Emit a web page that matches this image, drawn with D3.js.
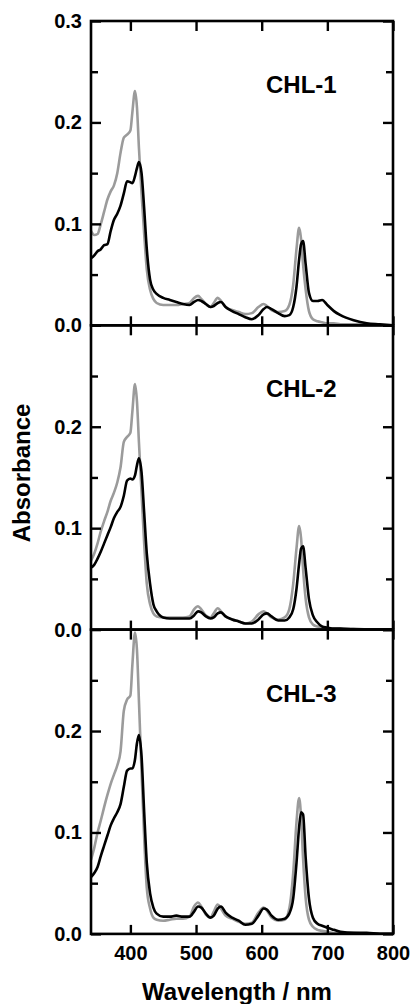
<!DOCTYPE html>
<html>
<head>
<meta charset="utf-8">
<script src="https://cdn.jsdelivr.net/npm/d3@7"></script>
<style>
  body { margin: 0; background: #fff; }
  text { font-family: "Liberation Sans", Arial, Helvetica, sans-serif; font-weight: bold; fill: #000; }
</style>
</head>
<body>
<div id="chart"></div>
<script>
// wavelength grid (nm) shared by all spectra
var wavelength = [340,345,350,355,360,365,370,375,380,385,390,395,400,403,407,410,413,417,421,425,
  430,435,440,450,460,470,480,490,497,503,508,515,522,527,533,538,545,555,565,575,
  585,595,603,608,615,625,635,642,648,653,657,660,663,667,672,678,685,692,700,710,
  720,740,760,780,800];

var chl1Gray = [0.093,0.089,0.090,0.100,0.112,0.124,0.132,0.138,0.150,0.170,0.185,0.188,0.192,0.210,0.231,0.215,0.175,0.130,0.090,0.055,
  0.035,0.026,0.022,0.020,0.020,0.020,0.021,0.022,0.027,0.029,0.026,0.021,0.018,0.022,0.027,0.024,0.018,0.015,0.013,0.011,
  0.012,0.018,0.021,0.019,0.015,0.013,0.014,0.020,0.040,0.075,0.096,0.085,0.060,0.035,0.014,0.006,0.004,0.003,0.002,0.002,
  0.001,0.001,0.001,0.000,0.000];
var chl1Black = [0.066,0.069,0.073,0.075,0.079,0.080,0.093,0.104,0.110,0.118,0.130,0.142,0.141,0.140,0.147,0.155,0.161,0.150,0.115,0.075,
  0.045,0.035,0.031,0.027,0.025,0.023,0.021,0.020,0.023,0.025,0.024,0.021,0.018,0.019,0.022,0.023,0.018,0.014,0.011,0.008,
  0.006,0.010,0.016,0.018,0.016,0.012,0.009,0.010,0.018,0.038,0.065,0.080,0.083,0.060,0.032,0.024,0.024,0.025,0.020,0.014,
  0.010,0.005,0.002,0.001,0.000];

var chl2Gray = [0.068,0.075,0.085,0.097,0.107,0.116,0.127,0.135,0.145,0.160,0.185,0.190,0.194,0.215,0.242,0.225,0.185,0.135,0.085,0.045,
  0.025,0.016,0.013,0.012,0.012,0.012,0.012,0.013,0.020,0.023,0.020,0.014,0.012,0.016,0.021,0.018,0.013,0.010,0.008,0.006,
  0.008,0.015,0.018,0.016,0.012,0.010,0.012,0.020,0.045,0.080,0.102,0.090,0.060,0.030,0.012,0.005,0.003,0.002,0.001,0.001,
  0.001,0.001,0.000,0.000,0.000];
var chl2Black = [0.061,0.064,0.070,0.077,0.085,0.093,0.101,0.110,0.116,0.121,0.132,0.147,0.149,0.148,0.152,0.162,0.169,0.155,0.115,0.075,
  0.045,0.025,0.018,0.012,0.011,0.011,0.011,0.011,0.014,0.018,0.017,0.013,0.011,0.012,0.016,0.017,0.013,0.010,0.008,0.006,
  0.006,0.010,0.015,0.016,0.013,0.009,0.009,0.012,0.020,0.040,0.065,0.080,0.082,0.060,0.030,0.014,0.007,0.003,0.002,0.001,
  0.001,0.000,0.000,0.000,0.000];

var chl3Gray = [0.073,0.085,0.100,0.112,0.125,0.137,0.148,0.157,0.166,0.180,0.220,0.231,0.235,0.265,0.297,0.280,0.230,0.160,0.095,0.045,
  0.025,0.016,0.014,0.013,0.014,0.015,0.015,0.017,0.027,0.031,0.027,0.019,0.016,0.022,0.029,0.025,0.018,0.015,0.012,0.010,
  0.011,0.021,0.026,0.023,0.016,0.013,0.014,0.025,0.060,0.110,0.134,0.115,0.075,0.035,0.014,0.007,0.004,0.003,0.002,0.001,
  0.001,0.001,0.000,0.000,0.000];
var chl3Black = [0.056,0.060,0.066,0.077,0.087,0.097,0.107,0.114,0.120,0.128,0.145,0.161,0.163,0.163,0.172,0.188,0.196,0.175,0.120,0.070,
  0.040,0.026,0.020,0.017,0.017,0.018,0.017,0.017,0.022,0.027,0.026,0.020,0.016,0.018,0.025,0.027,0.021,0.016,0.013,0.009,
  0.010,0.018,0.025,0.024,0.018,0.014,0.015,0.020,0.035,0.070,0.105,0.120,0.118,0.075,0.035,0.016,0.010,0.008,0.006,0.004,
  0.002,0.001,0.001,0.000,0.000];

var panelNames = ["CHL-1", "CHL-2", "CHL-3"];
var graySeries = [chl1Gray, chl2Gray, chl3Gray];
var blackSeries = [chl1Black, chl2Black, chl3Black];
var xTickValues = [400, 500, 600, 700, 800];
var yMajorTicks = [0, 0.1, 0.2, 0.3];
var yMinorTicks = [0.05, 0.15, 0.25];

var svgWidth = 412;
var svgHeight = 1004;
var margin = {top: 21, left: 91};
var width = 302;
var panelH = 304.3;

var svg = d3.select("#chart")
  .append("svg")
  .attr("width", svgWidth)
  .attr("height", svgHeight);

var x = d3.scaleLinear().domain([340, 800]).range([0, width]);
var y = d3.scaleLinear().domain([0, 0.3]).range([panelH, 0]);

svg.append("clipPath").attr("id", "plotClip")
  .append("rect").attr("width", width).attr("height", panelH);

var line = d3.line()
  .x(function(d) { return x(d[0]); })
  .y(function(d) { return y(d[1]); })
  .curve(d3.curveMonotoneX);

function styleAxis(g) {
  g.select(".domain").remove();
  g.selectAll(".tick line").attr("stroke", "#000").attr("stroke-width", 2.4);
  g.selectAll("text").attr("font-size", 20).attr("font-family", null).attr("fill", "#000");
  g.attr("font-family", null).attr("font-size", null);
}

panelNames.forEach(function(name, i) {
  var g = svg.append("g")
    .attr("transform", `translate(${margin.left}, ${margin.top + i * panelH})`);

  var plot = g.append("g").attr("clip-path", "url(#plotClip)");

  plot.append("path")
    .datum(wavelength.map(function(w, k) { return [w, graySeries[i][k]]; }))
    .attr("d", line)
    .attr("fill", "none")
    .attr("stroke", "#9b9b9b")
    .attr("stroke-width", 2.6)
    .attr("stroke-linejoin", "round");

  plot.append("path")
    .datum(wavelength.map(function(w, k) { return [w, blackSeries[i][k]]; }))
    .attr("d", line)
    .attr("fill", "none")
    .attr("stroke", "#000")
    .attr("stroke-width", 2.6)
    .attr("stroke-linejoin", "round");

  // left axis with labels
  var leftVals = i === 0 ? yMajorTicks : yMajorTicks.slice(0, 3);
  g.append("g")
    .call(d3.axisLeft(y).tickValues(leftVals).tickSizeInner(-10).tickSizeOuter(0)
      .tickPadding(9).tickFormat(d3.format(".1f")))
    .call(styleAxis);
  g.append("g")
    .call(d3.axisLeft(y).tickValues(yMinorTicks).tickSizeInner(-7).tickSizeOuter(0).tickFormat(""))
    .call(styleAxis);

  // right axis
  g.append("g")
    .attr("transform", `translate(${width}, 0)`)
    .call(d3.axisRight(y).tickValues(yMajorTicks).tickSizeInner(-10).tickSizeOuter(0).tickFormat(""))
    .call(styleAxis);
  g.append("g")
    .attr("transform", `translate(${width}, 0)`)
    .call(d3.axisRight(y).tickValues(yMinorTicks).tickSizeInner(-7).tickSizeOuter(0).tickFormat(""))
    .call(styleAxis);

  // top and bottom axes
  g.append("g")
    .call(d3.axisTop(x).tickValues(xTickValues).tickSizeInner(-10).tickSizeOuter(0).tickFormat(""))
    .call(styleAxis);
  g.append("g")
    .attr("transform", `translate(0, ${panelH})`)
    .call(d3.axisBottom(x).tickValues(xTickValues).tickSizeInner(-9).tickSizeOuter(0)
      .tickPadding(12).tickFormat(i === 2 ? d3.format("d") : ""))
    .call(styleAxis);

  // frame
  g.append("rect")
    .attr("width", width)
    .attr("height", panelH)
    .attr("fill", "none")
    .attr("stroke", "#000")
    .attr("stroke-width", 2.6);

  g.append("text")
    .attr("x", 175)
    .attr("y", 72)
    .attr("font-size", 24)
    .text(name);
});

// axis titles
svg.append("text")
  .attr("transform", "rotate(-90)")
  .attr("x", -473)
  .attr("y", 30)
  .attr("text-anchor", "middle")
  .attr("font-size", 24)
  .text("Absorbance");

svg.append("text")
  .attr("x", 237)
  .attr("y", 1000)
  .attr("text-anchor", "middle")
  .attr("font-size", 24)
  .text("Wavelength / nm");
</script>
</body>
</html>
